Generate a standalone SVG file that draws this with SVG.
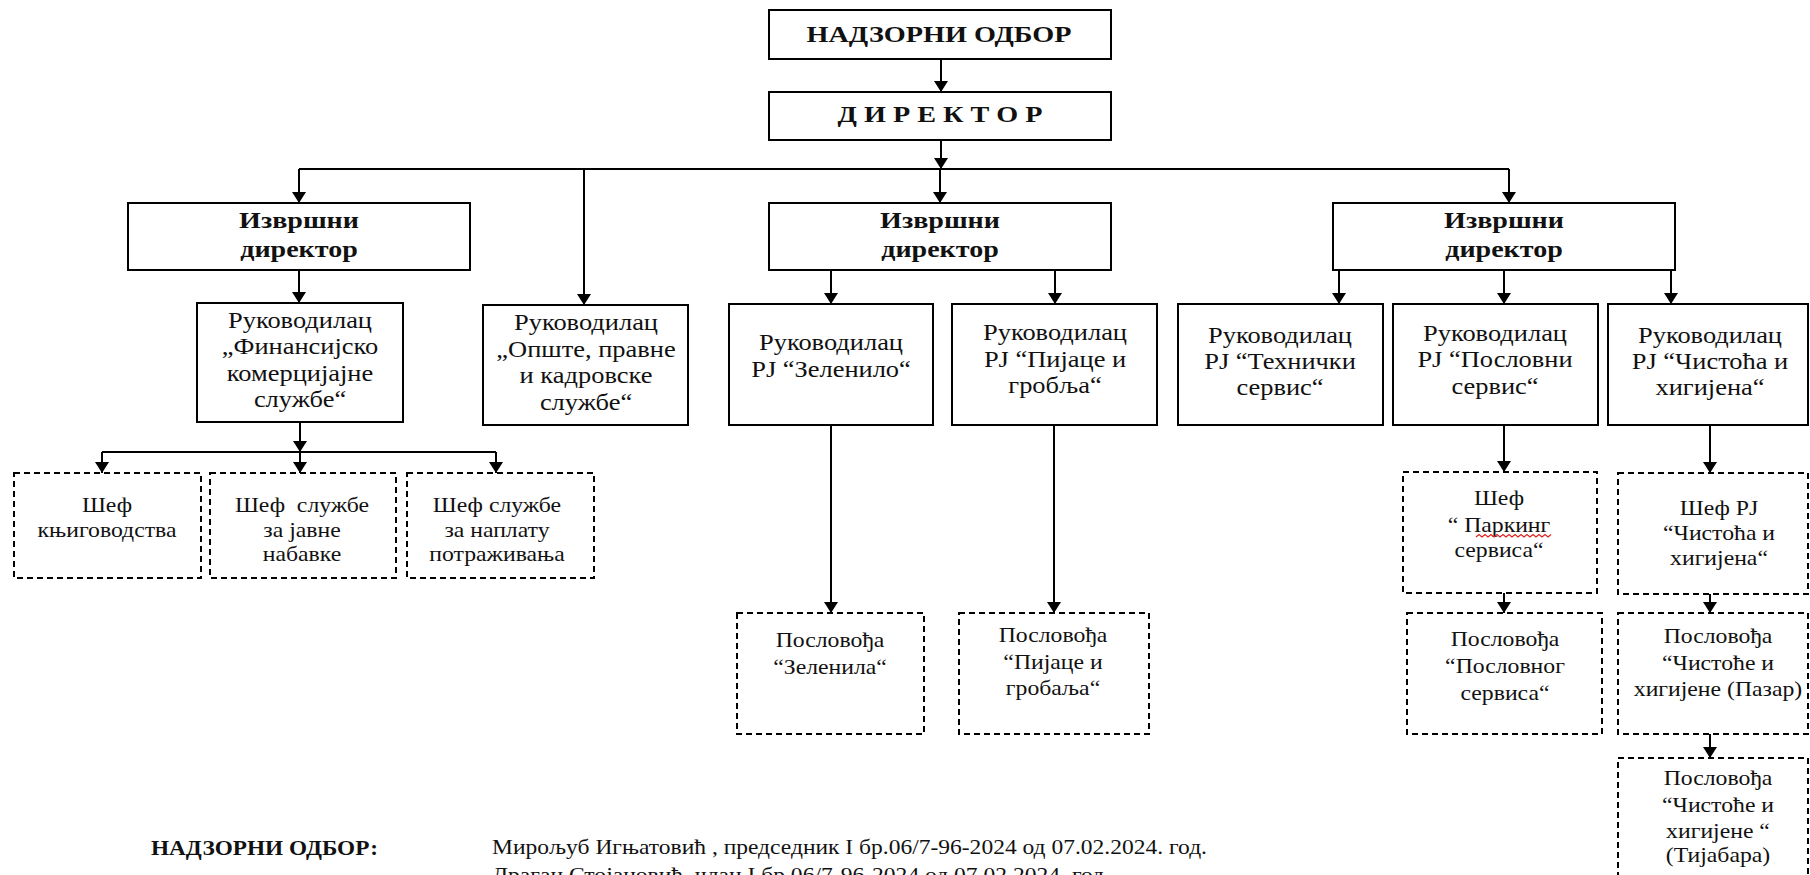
<svg xmlns="http://www.w3.org/2000/svg" width="1810" height="875" viewBox="0 0 1810 875">
<defs>
<marker id="ah" viewBox="0 0 10 10" refX="10" refY="5" markerWidth="11" markerHeight="14" markerUnits="userSpaceOnUse" orient="auto" preserveAspectRatio="none">
<path d="M0,0 L10,5 L0,10 z" fill="#000"/>
</marker>
<style>
.box{fill:#fff;stroke:#000;stroke-width:2}
.dbox{fill:#fff;stroke:#000;stroke-width:2;stroke-dasharray:6 4}
.ln{fill:none;stroke:#000;stroke-width:2}
.ar{fill:none;stroke:#000;stroke-width:2;marker-end:url(#ah)}
.t{font-family:"Liberation Serif","Times New Roman",serif;font-size:23px;fill:#111;text-anchor:middle}
.td{font-family:"Liberation Serif","Times New Roman",serif;font-size:21px;fill:#111;text-anchor:middle}
.tb{font-family:"Liberation Serif","Times New Roman",serif;font-size:23px;font-weight:bold;fill:#111;text-anchor:middle}
.tl{font-family:"Liberation Serif","Times New Roman",serif;font-size:22px;fill:#111}
.tlb{font-family:"Liberation Serif","Times New Roman",serif;font-size:22px;font-weight:bold;fill:#111}
</style>
</defs>
<rect width="1810" height="875" fill="#fff"/>

<g id="connectors">
<path class="ar" d="M941,59 V92"/>
<path class="ar" d="M941,140 V169"/>
<path class="ln" d="M299,169 H1509"/>
<path class="ar" d="M299,169 V203"/>
<path class="ar" d="M584,169 V305"/>
<path class="ar" d="M940,169 V203"/>
<path class="ar" d="M1509,169 V203"/>
<path class="ar" d="M299,270 V303"/>
<path class="ar" d="M831,270 V304"/>
<path class="ar" d="M1055,270 V304"/>
<path class="ar" d="M1339,270 V304"/>
<path class="ar" d="M1504,270 V304"/>
<path class="ar" d="M1671,270 V304"/>
<path class="ar" d="M300,422 V452"/>
<path class="ln" d="M102,452 H496"/>
<path class="ar" d="M102,452 V473"/>
<path class="ar" d="M300,452 V473"/>
<path class="ar" d="M496,452 V473"/>
<path class="ar" d="M831,425 V613"/>
<path class="ar" d="M1054,425 V613"/>
<path class="ar" d="M1504,425 V472"/>
<path class="ar" d="M1710,425 V473"/>
<path class="ar" d="M1504,593 V613"/>
<path class="ar" d="M1710,594 V613"/>
<path class="ar" d="M1710,734 V758"/>
</g>

<g id="nadzorni">
<rect class="box" x="769" y="10" width="342" height="49"/>
<text class="tb" x="939" y="42" textLength="265" lengthAdjust="spacingAndGlyphs">НАДЗОРНИ ОДБОР</text>
</g>
<g id="direktor">
<rect class="box" x="769" y="92" width="342" height="48"/>
<text class="tb" x="940" y="122" textLength="205" lengthAdjust="spacingAndGlyphs">Д И Р Е К Т О Р</text>
</g>

<g id="izvrsni1">
<rect class="box" x="128" y="203" width="342" height="67"/>
<text class="tb" transform="translate(299,0) scale(1.22,1)"><tspan x="0" y="228">Извршни</tspan><tspan x="0" y="257">директор</tspan></text>
</g>
<g id="izvrsni2">
<rect class="box" x="769" y="203" width="342" height="67"/>
<text class="tb" transform="translate(940,0) scale(1.22,1)"><tspan x="0" y="228">Извршни</tspan><tspan x="0" y="257">директор</tspan></text>
</g>
<g id="izvrsni3">
<rect class="box" x="1333" y="203" width="342" height="67"/>
<text class="tb" transform="translate(1504,0) scale(1.22,1)"><tspan x="0" y="228">Извршни</tspan><tspan x="0" y="257">директор</tspan></text>
</g>

<g id="fin">
<rect class="box" x="197" y="303" width="206" height="119"/>
<text class="t" transform="translate(300,0) scale(1.15,1)"><tspan x="0" y="328">Руководилац</tspan><tspan x="0" y="354">„Финансијско</tspan><tspan x="0" y="381">комерцијајне</tspan><tspan x="0" y="407">службе“</tspan></text>
</g>
<g id="opste">
<rect class="box" x="483" y="305" width="205" height="120"/>
<text class="t" transform="translate(586,0) scale(1.15,1)"><tspan x="0" y="330">Руководилац</tspan><tspan x="0" y="357">„Опште, правне</tspan><tspan x="0" y="383">и кадровске</tspan><tspan x="0" y="410">службе“</tspan></text>
</g>
<g id="zelenilo">
<rect class="box" x="729" y="304" width="204" height="121"/>
<text class="t" transform="translate(831,0) scale(1.15,1)"><tspan x="0" y="350">Руководилац</tspan><tspan x="0" y="377">PJ “Зеленило“</tspan></text>
</g>
<g id="pijace">
<rect class="box" x="952" y="304" width="205" height="121"/>
<text class="t" transform="translate(1055,0) scale(1.15,1)"><tspan x="0" y="340">Руководилац</tspan><tspan x="0" y="367">PJ “Пијаце и</tspan><tspan x="0" y="393">гробља“</tspan></text>
</g>
<g id="tehnicki">
<rect class="box" x="1178" y="304" width="205" height="121"/>
<text class="t" transform="translate(1280,0) scale(1.15,1)"><tspan x="0" y="343">Руководилац</tspan><tspan x="0" y="369">PJ “Технички</tspan><tspan x="0" y="395">сервис“</tspan></text>
</g>
<g id="poslovni">
<rect class="box" x="1393" y="304" width="205" height="121"/>
<text class="t" transform="translate(1495,0) scale(1.15,1)"><tspan x="0" y="341">Руководилац</tspan><tspan x="0" y="367">PJ “Пословни</tspan><tspan x="0" y="394">сервис“</tspan></text>
</g>
<g id="cistoca">
<rect class="box" x="1608" y="304" width="200" height="121"/>
<text class="t" transform="translate(1710,0) scale(1.15,1)"><tspan x="0" y="343">Руководилац</tspan><tspan x="0" y="369">PJ “Чистоћа и</tspan><tspan x="0" y="395">хигијена“</tspan></text>
</g>

<g id="knjigovodstvo">
<rect class="dbox" x="14" y="473" width="187" height="105"/>
<text class="td" transform="translate(107,0) scale(1.13,1)"><tspan x="0" y="512">Шеф</tspan><tspan x="0" y="537">књиговодства</tspan></text>
</g>
<g id="nabavke">
<rect class="dbox" x="210" y="473" width="186" height="105"/>
<text class="td" transform="translate(302,0) scale(1.13,1)"><tspan x="0" y="512" xml:space="preserve">Шеф  службе</tspan><tspan x="0" y="537">за јавне</tspan><tspan x="0" y="561">набавке</tspan></text>
</g>
<g id="naplata">
<rect class="dbox" x="407" y="473" width="187" height="105"/>
<text class="td" transform="translate(497,0) scale(1.13,1)"><tspan x="0" y="512">Шеф службе</tspan><tspan x="0" y="537">за наплату</tspan><tspan x="0" y="561">потраживања</tspan></text>
</g>

<g id="poslovodja-zelenila">
<rect class="dbox" x="737" y="613" width="187" height="121"/>
<text class="td" transform="translate(830,0) scale(1.13,1)"><tspan x="0" y="647">Пословођа</tspan><tspan x="0" y="674">“Зеленила“</tspan></text>
</g>
<g id="poslovodja-pijace">
<rect class="dbox" x="959" y="613" width="190" height="121"/>
<text class="td" transform="translate(1053,0) scale(1.13,1)"><tspan x="0" y="642">Пословођа</tspan><tspan x="0" y="669">“Пијаце и</tspan><tspan x="0" y="695">гробаља“</tspan></text>
</g>

<g id="sef-parking">
<rect class="dbox" x="1403" y="472" width="194" height="121"/>
<text class="td" transform="translate(1499,0) scale(1.13,1)"><tspan x="0" y="505">Шеф</tspan><tspan x="0" y="532">“ Паркинг</tspan><tspan x="0" y="557">сервиса“</tspan></text>
<path d="M1476,537 l3,-2.5 l3,2.5 l3,-2.5 l3,2.5 l3,-2.5 l3,2.5 l3,-2.5 l3,2.5 l3,-2.5 l3,2.5 l3,-2.5 l3,2.5 l3,-2.5 l3,2.5 l3,-2.5 l3,2.5 l3,-2.5 l3,2.5 l3,-2.5 l3,2.5 l3,-2.5 l3,2.5 l3,-2.5 l3,2.5 l3,-2.5" fill="none" stroke="#d22" stroke-width="1.2"/>
</g>
<g id="sef-cistoca">
<rect class="dbox" x="1618" y="473" width="190" height="121"/>
<text class="td" transform="translate(1719,0) scale(1.13,1)"><tspan x="0" y="515">Шеф PJ</tspan><tspan x="0" y="540">“Чистоћа и</tspan><tspan x="0" y="565">хигијена“</tspan></text>
</g>
<g id="poslovodja-poslovnog">
<rect class="dbox" x="1407" y="613" width="195" height="121"/>
<text class="td" transform="translate(1505,0) scale(1.13,1)"><tspan x="0" y="646">Пословођа</tspan><tspan x="0" y="673">“Пословног</tspan><tspan x="0" y="700">сервиса“</tspan></text>
</g>
<g id="poslovodja-pazar">
<rect class="dbox" x="1618" y="613" width="190" height="121"/>
<text class="td" transform="translate(1718,0) scale(1.13,1)"><tspan x="0" y="643">Пословођа</tspan><tspan x="0" y="670">“Чистоће и</tspan><tspan x="0" y="696">хигијене (Пазар)</tspan></text>
</g>
<g id="poslovodja-tijabara">
<rect class="dbox" x="1618" y="758" width="190" height="125"/>
<text class="td" transform="translate(1718,0) scale(1.13,1)"><tspan x="0" y="785">Пословођа</tspan><tspan x="0" y="812">“Чистоће и</tspan><tspan x="0" y="838">хигијене “</tspan><tspan x="0" y="862">(Тијабара)</tspan></text>
</g>

<g id="footer">
<text class="tlb" x="151" y="855" textLength="227" lengthAdjust="spacingAndGlyphs">НАДЗОРНИ ОДБОР:</text>
<text class="tl" x="492" y="854" textLength="715" lengthAdjust="spacingAndGlyphs">Мирољуб Игњатовић , председник I бр.06/7-96-2024 од 07.02.2024. год.</text>
<text class="tl" x="492" y="882" textLength="618" lengthAdjust="spacingAndGlyphs">Драган Стојановић, члан I бр.06/7-96-2024 од 07.02.2024. год.</text>
</g>
</svg>
